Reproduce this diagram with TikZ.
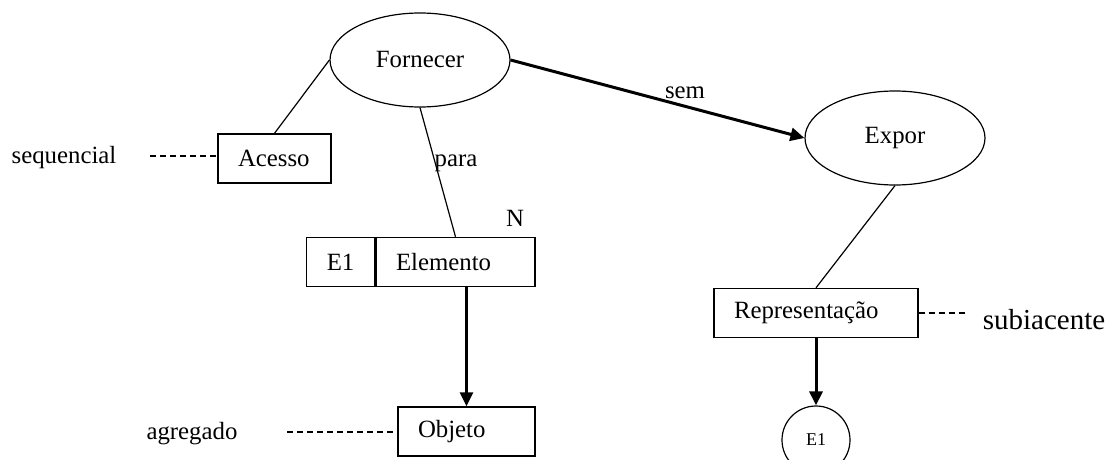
\documentclass[tikz,border=0pt]{standalone}
\usepackage{fontspec}
\setmainfont{Liberation Serif}
\usetikzlibrary{shapes.geometric,arrows.meta}

\begin{document}
\begin{tikzpicture}[x=0.5pt, y=-0.5pt, font=\fontsize{12.4}{14}\selectfont,
  proc/.style={draw, ellipse, line width=0.6pt, minimum width=90pt, minimum height=47pt, inner sep=0pt},
  ent/.style={draw, line width=0.7pt, minimum height=24.5pt, inner xsep=10pt, inner ysep=0pt, align=left},
  link/.style={line width=0.6pt},
  strong/.style={line width=1.5pt, -{Triangle[length=7pt,width=6.5pt]}},
  attr/.style={line width=1pt, dash pattern=on 3pt off 2pt}]
  \useasboundingbox (0,0) rectangle (1115,460);
  \node[proc] (fornecer) at (420,60) {Fornecer};
  \node[proc] (expor) at (895,138) {Expor};
  \node[ent, text width=36.5pt] (acesso) at (274.5,158.5) {Acesso};
  \node[ent, text width=59.5pt] (elemento) at (455.5,262) {Elemento};
  \node[draw, line width=0.7pt, minimum width=34pt, minimum height=24.5pt, inner sep=0pt, anchor=east] (e1box) at (elemento.west) {E1};
  \node[ent, text width=48.5pt] (objeto) at (466.5,431.5) {Objeto};
  \node[ent, text width=82pt] (repr) at (816,313) {Representação};
  \node[draw, circle, line width=0.6pt, minimum size=34pt, inner sep=0pt, font=\fontsize{9}{10}\selectfont] (e1circ) at (816,440) {E1};
  \node (seq) at (64,158) {sequencial};
  \node (agr) at (192,434) {agregado};
  \node[font=\fontsize{14.5}{16}\selectfont] (sub) at (1044,320) {subiacente};
  \node (para) at (456,163) {para};
  \node (sem) at (685,93) {sem};
  \node (card) at (515,218) {N};
  \coordinate (seqend) at (150,156);
  \coordinate (agrend) at (287,431.5);
  \coordinate (subend) at (965,313);
  \draw[link] (acesso.north) -- (fornecer.west);
  \draw[link] (fornecer.south) -- (elemento.north);
  \draw[link] (expor.south) -- (repr.north);
  \draw[strong] (fornecer.east) -- (expor.west);
  \draw[strong] (objeto.north |- elemento.south) -- (objeto.north);
  \draw[strong] (repr.south) -- (e1circ.north);
  \draw[attr] (seqend) -- (seqend -| acesso.west);
  \draw[attr] (agrend) -- (objeto.west);
  \draw[attr] (repr.east) -- (subend);
\end{tikzpicture}
\end{document}
